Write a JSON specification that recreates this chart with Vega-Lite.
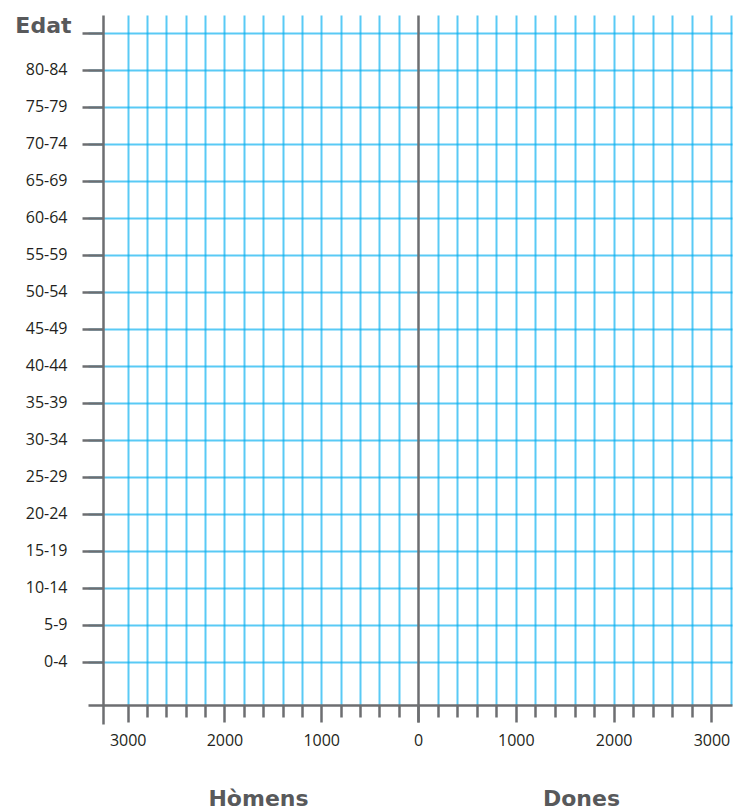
{
  "$schema": "https://vega.github.io/schema/vega-lite/v6.json",
  "background": "white",
  "padding": {"left": 14, "top": 14, "right": 10, "bottom": 0},
  "spacing": 0,
  "bounds": "flush",
  "config": {"view": {"stroke": null}},
  "data": {
    "values": [
      {"edat": "80-84", "homes": null, "dones": null},
      {"edat": "75-79", "homes": null, "dones": null},
      {"edat": "70-74", "homes": null, "dones": null},
      {"edat": "65-69", "homes": null, "dones": null},
      {"edat": "60-64", "homes": null, "dones": null},
      {"edat": "55-59", "homes": null, "dones": null},
      {"edat": "50-54", "homes": null, "dones": null},
      {"edat": "45-49", "homes": null, "dones": null},
      {"edat": "40-44", "homes": null, "dones": null},
      {"edat": "35-39", "homes": null, "dones": null},
      {"edat": "30-34", "homes": null, "dones": null},
      {"edat": "25-29", "homes": null, "dones": null},
      {"edat": "20-24", "homes": null, "dones": null},
      {"edat": "15-19", "homes": null, "dones": null},
      {"edat": "10-14", "homes": null, "dones": null},
      {"edat": "5-9", "homes": null, "dones": null},
      {"edat": "0-4", "homes": null, "dones": null}
    ]
  },
  "hconcat": [
    {
      "width": 330,
      "height": 690,
      "mark": {"type": "bar", "color": "#00aeef"},
      "encoding": {
        "y": {
          "field": "edat",
          "type": "ordinal",
          "scale": {
            "type": "point",
            "domain": ["Edat", "80-84", "75-79", "70-74", "65-69", "60-64", "55-59", "50-54", "45-49", "40-44", "35-39", "30-34", "25-29", "20-24", "15-19", "10-14", "5-9", "0-4"],
            "padding": 0.8243,
            "align": 0.295
          },
          "axis": {
            "title": null,
            "offset": -15,
            "domainColor": "#6d6e71",
            "domainWidth": 2.5,
            "tickColor": "#6d6e71",
            "tickWidth": 2.5,
            "tickSize": 21,
            "grid": true,
            "gridColor": "#00aeef",
            "gridOpacity": 0.65,
            "gridWidth": 2,
            "labelFont": {"condition": {"test": "datum.value === 'Edat'", "value": "DejaVu Sans"}, "value": "Open Sans"},
            "labelFontSize": {"condition": {"test": "datum.value === 'Edat'", "value": 22}, "value": 16},
            "labelFontWeight": {"condition": {"test": "datum.value === 'Edat'", "value": "bold"}, "value": "normal"},
            "labelColor": {"condition": {"test": "datum.value === 'Edat'", "value": "#58595b"}, "value": "#231f20"},
            "labelBaseline": {"condition": {"test": "datum.value === 'Edat'", "value": "alphabetic"}, "value": "middle"},
            "labelPadding": {"condition": {"test": "datum.value === 'Edat'", "value": 11}, "value": 15}
          }
        },
        "x": {
          "field": "homes",
          "type": "quantitative",
          "scale": {"domain": [0, 3410], "reverse": true, "nice": false, "zero": true},
          "axis": {
            "values": [0, 200, 400, 600, 800, 1000, 1200, 1400, 1600, 1800, 2000, 2200, 2400, 2600, 2800, 3000, 3250],
            "format": "d",
            "labelExpr": "datum.value % 1000 === 0 && datum.value > 0 ? datum.label : ''",
            "title": "Hòmens",
            "titleFont": "DejaVu Sans",
            "titleFontWeight": "bold",
            "titleFontSize": 22,
            "titleColor": "#58595b",
            "titleX": 170,
            "titleAlign": "center",
            "titlePadding": 38,
            "domainColor": "#6d6e71",
            "domainWidth": 2.5,
            "tickColor": "#6d6e71",
            "tickWidth": 2.5,
            "tickSize": {"condition": [{"test": "datum.value > 3100", "value": 19}, {"test": "datum.value % 1000 === 0", "value": 17}], "value": 12},
            "grid": true,
            "gridColor": "#00aeef",
            "gridWidth": 2,
            "gridOpacity": {"condition": {"test": "datum.value === 0 || datum.value > 3100", "value": 0}, "value": 0.65},
            "labelFont": "Open Sans",
            "labelFontSize": 16,
            "labelColor": "#231f20",
            "labelPadding": 10,
            "labelFlush": false,
            "labelOverlap": false
          }
        }
      }
    },
    {
      "width": 314,
      "height": 690,
      "mark": {"type": "bar", "color": "#ec008c"},
      "encoding": {
        "y": {
          "field": "edat",
          "type": "ordinal",
          "scale": {
            "type": "point",
            "domain": ["Edat", "80-84", "75-79", "70-74", "65-69", "60-64", "55-59", "50-54", "45-49", "40-44", "35-39", "30-34", "25-29", "20-24", "15-19", "10-14", "5-9", "0-4"],
            "padding": 0.8243,
            "align": 0.295
          },
          "axis": {
            "title": null,
            "labels": false,
            "ticks": false,
            "domainColor": "#6d6e71",
            "domainWidth": 2.5,
            "grid": true,
            "gridColor": "#00aeef",
            "gridOpacity": 0.65,
            "gridWidth": 2
          }
        },
        "x": {
          "field": "dones",
          "type": "quantitative",
          "scale": {"domain": [0, 3210], "nice": false, "zero": true},
          "axis": {
            "values": [0, 200, 400, 600, 800, 1000, 1200, 1400, 1600, 1800, 2000, 2200, 2400, 2600, 2800, 3000, 3200],
            "format": "d",
            "labelExpr": "datum.value % 1000 === 0 ? datum.label : ''",
            "title": "Dones",
            "titleFont": "DejaVu Sans",
            "titleFontWeight": "bold",
            "titleFontSize": 22,
            "titleColor": "#58595b",
            "titleX": 163,
            "titleAlign": "center",
            "titlePadding": 40,
            "domainColor": "#6d6e71",
            "domainWidth": 2.5,
            "tickColor": "#6d6e71",
            "tickWidth": 2.5,
            "tickSize": {"condition": {"test": "datum.value % 1000 === 0", "value": 17}, "value": 12},
            "tickOpacity": {"condition": {"test": "datum.value > 3100", "value": 0}, "value": 1},
            "grid": true,
            "gridColor": "#00aeef",
            "gridWidth": 2,
            "gridOpacity": {"condition": {"test": "datum.value === 0", "value": 0}, "value": 0.65},
            "labelFont": "Open Sans",
            "labelFontSize": 16,
            "labelColor": "#231f20",
            "labelPadding": 10,
            "labelFlush": false,
            "labelOverlap": false
          }
        }
      }
    }
  ]
}
